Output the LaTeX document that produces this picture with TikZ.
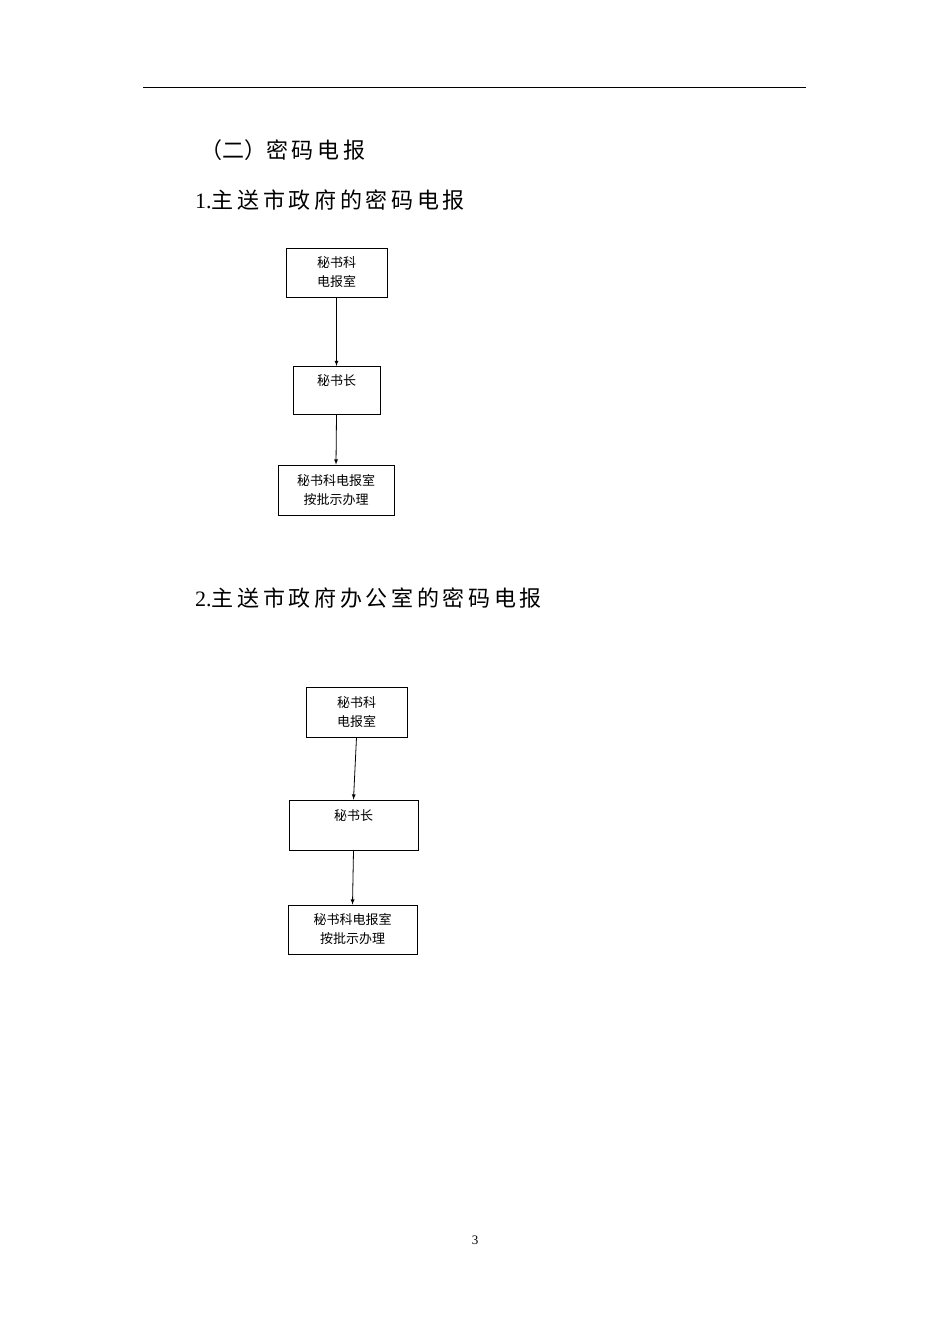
\documentclass[tikz,border=0pt]{standalone}
\usepackage{fontspec}
\setmainfont{Liberation Serif}
\newfontfamily\cjk{Noto Sans CJK SC}
\begin{document}
\begin{tikzpicture}[x=1pt,y=-1pt,
  bx/.style={draw,line width=0.8pt,inner sep=0pt,align=center,font=\cjk\fontsize{13}{19}\selectfont},
  ar/.style={-latex,line width=0.8pt},
  hd/.style={anchor=west,inner sep=0pt,font=\cjk\fontsize{22}{26}\selectfont}]
\useasboundingbox (0,0) rectangle (950,1344);
\draw[line width=1pt] (143,87) coordinate(l1) -- (806,87) coordinate(l2);
\node[hd] (h0) at (200,150) {（二）密\,码\,电\,报};
\node[hd] (h1) at (195,200) {\rmfamily 1.\cjk 主\,送\,市\,政\,府\,的\,密\,码\,电\,报};
\node[bx,minimum width=101,minimum height=49] (a1) at (336.5,272.5) {秘书科\\电报室};
\node[bx,minimum width=87,minimum height=48,anchor=north] (a2) at (336.5,366) {};
\node[font=\cjk\fontsize{13}{15}\selectfont] (t2) at (336.5,381) {秘书长};
\node[bx,minimum width=116,minimum height=50] (a3) at (336,490) {秘书科电报室\\按批示办理};
\draw[ar] (a1.south) -- (a2.north);
\draw[ar] (a2.south) -- (a3.north);
\node[hd] (h2) at (195,598) {\rmfamily 2.\cjk 主\,送\,市\,政\,府\,办\,公\,室\,的\,密\,码\,电\,报};
\node[bx,minimum width=101,minimum height=50] (b1) at (356.5,712) {秘书科\\电报室};
\node[bx,minimum width=129,minimum height=50] (b2) at (353.5,825) {};
\node[font=\cjk\fontsize{13}{15}\selectfont] (t5) at (353.5,816) {秘书长};
\node[bx,minimum width=129,minimum height=49] (b3) at (352.5,929.5) {秘书科电报室\\按批示办理};
\draw[ar] (b1.south) -- (b2.north);
\draw[ar] (b2.south) -- (b3.north);
\node[font=\fontsize{13}{15}\selectfont] (pg) at (475,1240) {3};
\end{tikzpicture}
\end{document}
